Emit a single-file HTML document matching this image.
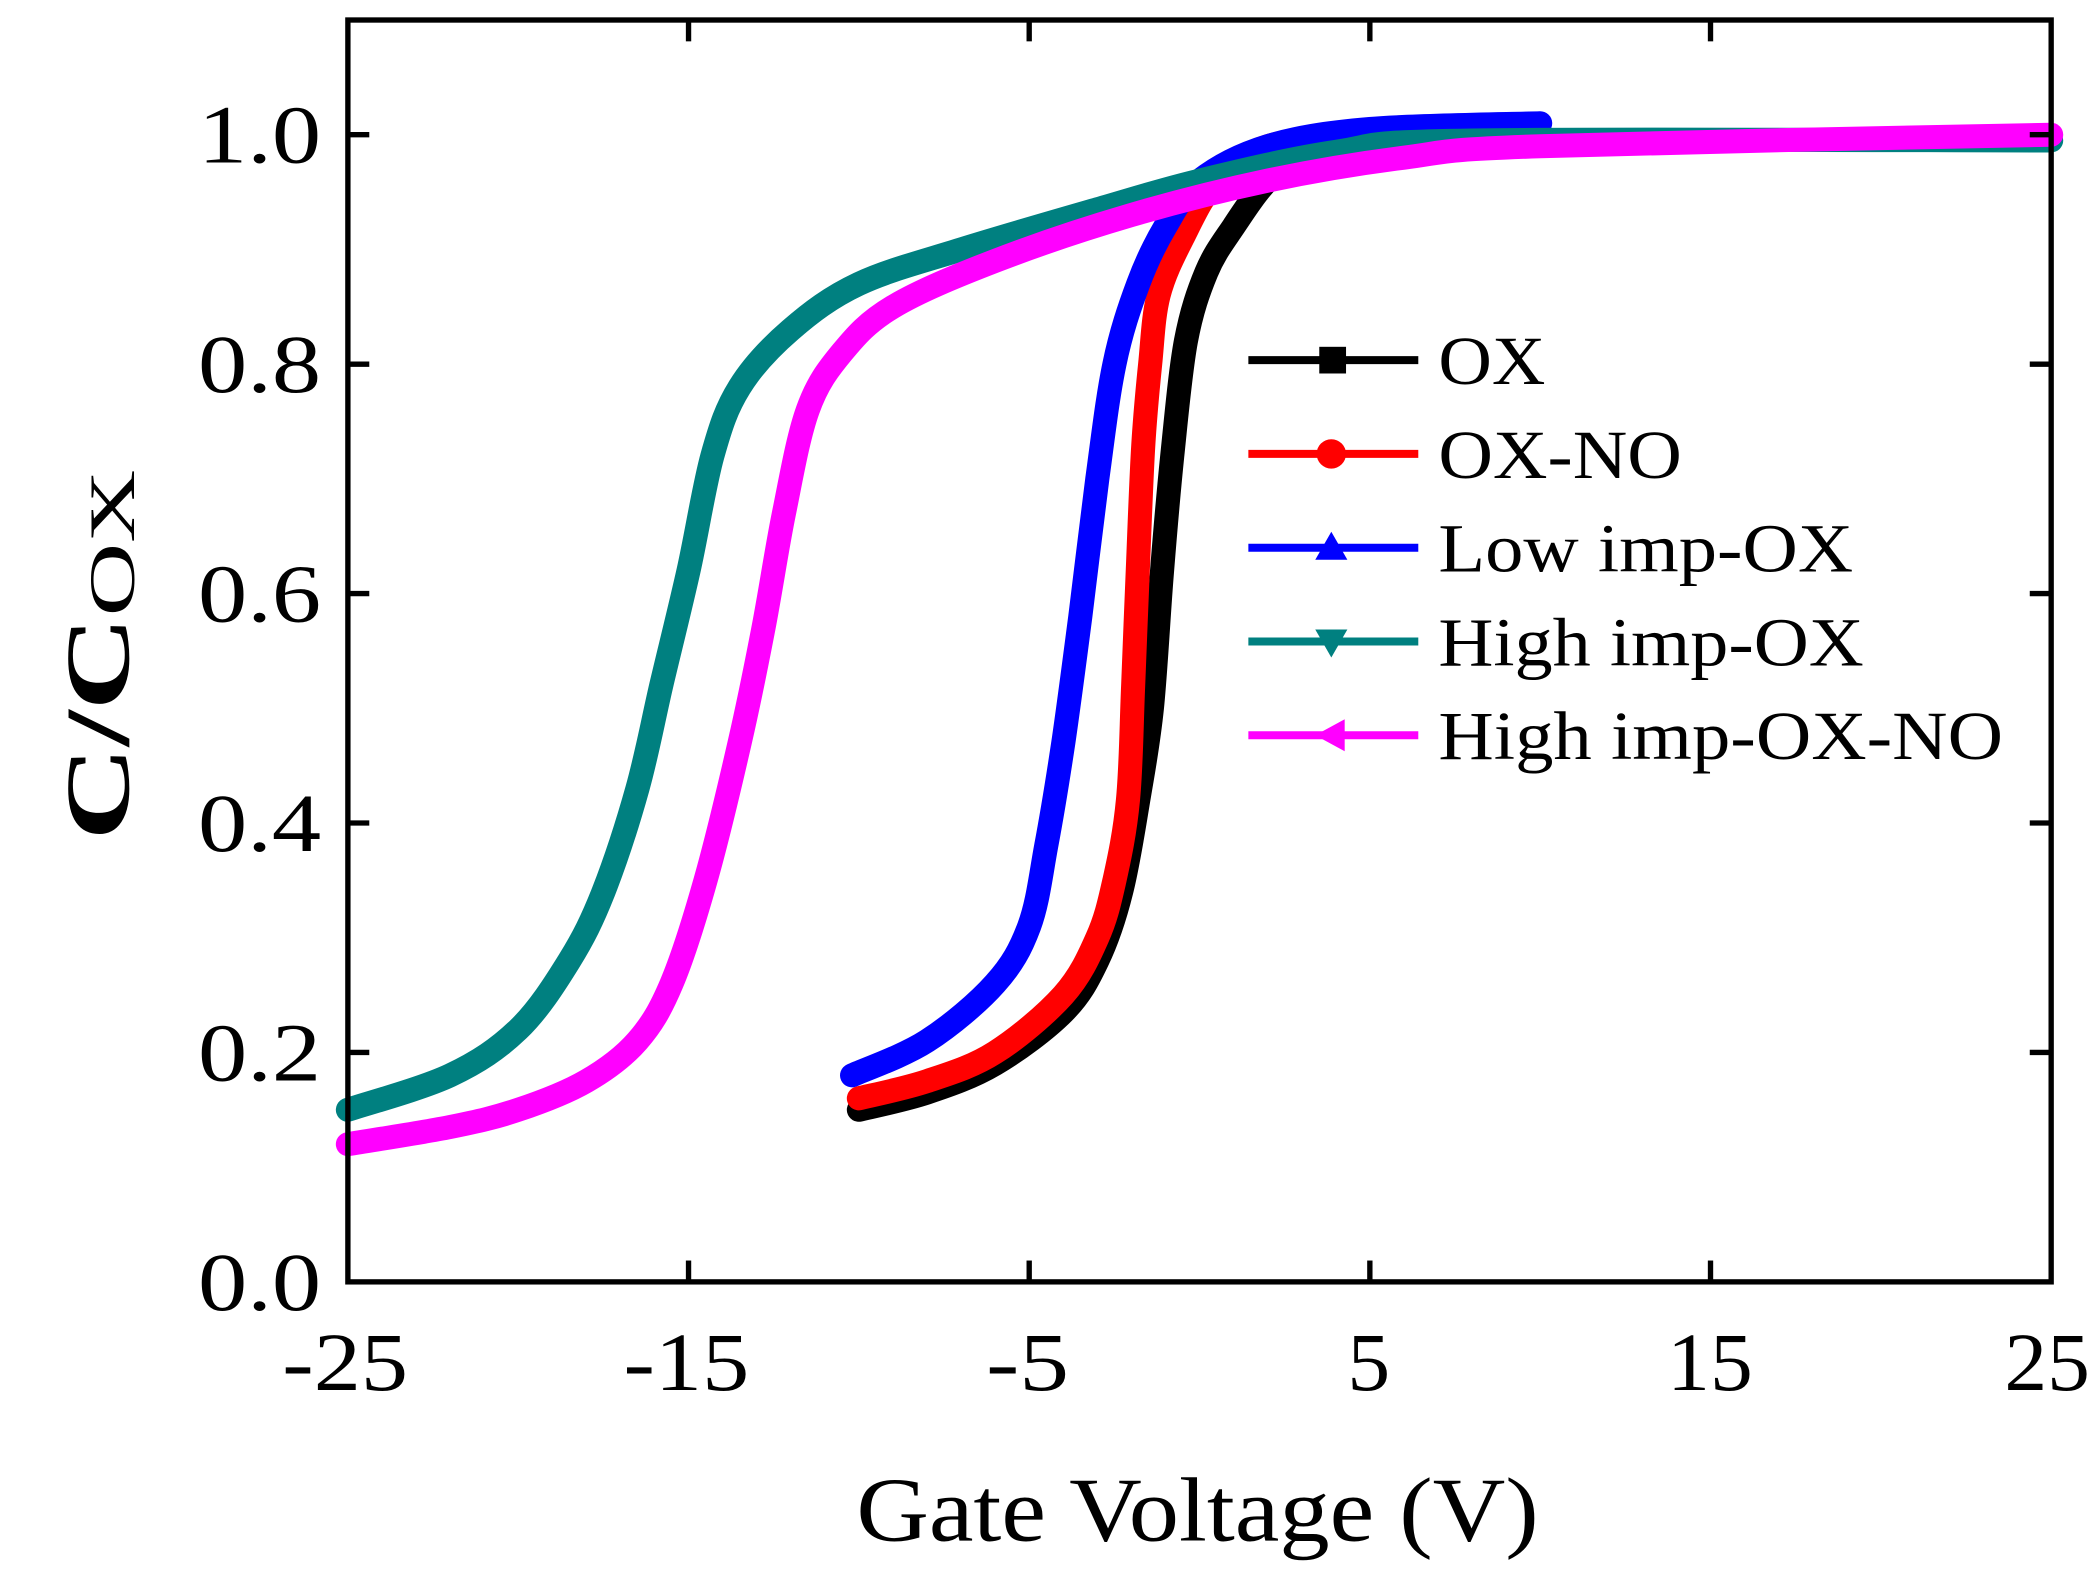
<!DOCTYPE html><html><head><meta charset="utf-8"><style>html,body{margin:0;padding:0;background:#fff}svg{display:block}</style></head><body>
<svg id="s" width="2098" height="1582" viewBox="0 0 1568 1186" preserveAspectRatio="none" xmlns="http://www.w3.org/2000/svg" font-family="Liberation Serif, serif">
<rect width="1568" height="1186" fill="#fff"/>
<g id="curves"></g>
<rect x="260" y="15" width="1273" height="946" fill="none" stroke="#000" stroke-width="4"/>
<g stroke="#000" stroke-width="4" id="ticks"></g>
<g font-size="62" text-anchor="end">
<text x="240" y="982" textLength="92" lengthAdjust="spacingAndGlyphs">0.0</text><text x="240" y="810" textLength="92" lengthAdjust="spacingAndGlyphs">0.2</text><text x="240" y="638" textLength="92" lengthAdjust="spacingAndGlyphs">0.4</text><text x="240" y="466" textLength="92" lengthAdjust="spacingAndGlyphs">0.6</text><text x="240" y="294" textLength="92" lengthAdjust="spacingAndGlyphs">0.8</text><text x="240" y="122" textLength="92" lengthAdjust="spacingAndGlyphs">1.0</text></g>
<g font-size="62" text-anchor="middle">
<text x="258" y="1042" textLength="94" lengthAdjust="spacingAndGlyphs">-25</text><text x="513" y="1042" textLength="94" lengthAdjust="spacingAndGlyphs">-15</text><text x="768" y="1042" textLength="62" lengthAdjust="spacingAndGlyphs">-5</text><text x="1023" y="1042" textLength="32" lengthAdjust="spacingAndGlyphs">5</text><text x="1278" y="1042" textLength="64" lengthAdjust="spacingAndGlyphs">15</text><text x="1530" y="1042" textLength="64" lengthAdjust="spacingAndGlyphs">25</text></g>
<text x="895" y="1155" font-size="68" text-anchor="middle" textLength="510" lengthAdjust="spacingAndGlyphs">Gate Voltage (V)</text>
<text transform="translate(96,630) rotate(-90)" font-size="68" font-weight="bold"><tspan textLength="168" lengthAdjust="spacingAndGlyphs">C/C</tspan><tspan font-size="48" dy="4" font-weight="normal" textLength="110" lengthAdjust="spacingAndGlyphs">OX</tspan></text>
<g id="leg" font-size="52"></g>
</svg>
<script>
const X=v=>260+(v+25)*25.46, Y=c=>961-c*860;
const S=[
["#000",[[-10,.15],[-8,.165],[-6,.19],[-4,.235],[-3,.28],[-2.3,.34],[-1.8,.42],[-1.4,.5],[-1.1,.62],[-0.8,.72],[-0.4,.82],[0.2,.88],[1,.92],[2,.96],[3,.98],[5,.995],[10,1]]],
["#f00",[[-10,.16],[-8,.175],[-6,.2],[-4,.25],[-3,.3],[-2.5,.35],[-2.1,.42],[-1.95,.52],[-1.8,.63],[-1.65,.73],[-1.45,.8],[-1.2,.86],[-.5,.91],[.5,.96],[2,.99],[5,1],[10,1]]],
["#00f",[[-10.2,.18],[-8,.21],[-6,.26],[-5,.31],[-4.5,.38],[-4,.47],[-3.5,.58],[-3,.7],[-2.5,.8],[-1.8,.87],[-1,.92],[0,.96],[2,.99],[5,1.005],[10,1.01]]],
["#008080",[[-25,.15],[-22,.18],[-20,.22],[-18.5,.28],[-17.5,.34],[-16.5,.43],[-15.8,.52],[-15,.62],[-14.3,.72],[-13.5,.78],[-12,.83],[-10,.87],[-7,.9],[-3,.935],[0,.96],[4,.985],[8,.995],[25,.995]]],
["#f0f",[[-25,.12],[-22,.135],[-20,.15],[-18,.175],[-16.5,.21],[-15.5,.26],[-14.5,.35],[-13.5,.47],[-12.8,.57],[-12.2,.67],[-11.5,.76],[-10.5,.81],[-9,.85],[-6,.89],[-2,.93],[2,.96],[6,.98],[10,.99],[25,1]]]];
function path(p){const P=p.map(q=>[X(q[0]),Y(q[1])]);let d=`M${P[0][0]},${P[0][1]}`;
for(let i=0;i<P.length-1;i++){const a=P[Math.max(0,i-1)],b=P[i],c=P[i+1],e=P[Math.min(P.length-1,i+2)];
const c1=[b[0]+(c[0]-a[0])/6,b[1]+(c[1]-a[1])/6],c2=[c[0]-(e[0]-b[0])/6,c[1]-(e[1]-b[1])/6];
d+=` C${c1[0].toFixed(1)},${c1[1].toFixed(1)} ${c2[0].toFixed(1)},${c2[1].toFixed(1)} ${c[0].toFixed(1)},${c[1].toFixed(1)}`;}return d;}
let h='';
for(const[c,p]of S){h+=`<path d="${path(p)}" fill="none" stroke="${c}" stroke-width="18" stroke-linejoin="round" stroke-linecap="round"/>`;}
document.getElementById('curves').innerHTML=h;
let t='';for(const v of[-15,-5,5,15]){t+=`<line x1="${X(v)}" y1="961" x2="${X(v)}" y2="945"/><line x1="${X(v)}" y1="15" x2="${X(v)}" y2="31"/>`;}
for(const c of[.2,.4,.6,.8,1]){t+=`<line x1="260" y1="${Y(c)}" x2="276" y2="${Y(c)}"/><line x1="1533" y1="${Y(c)}" x2="1517" y2="${Y(c)}"/>`;}
document.getElementById('ticks').innerHTML=t;
const L=[["#000","OX",80],["#f00","OX-NO",182],["#00f","Low imp-OX",310],["#008080","High imp-OX",318],["#f0f","High imp-OX-NO",422]];let l='';
L.forEach(([c,n,w],i)=>{let y=270+i*70.3;let m=i==0?`<rect x="986" y="${y-10}" width="20" height="20" fill="${c}"/>`:i==1?`<circle cx="995" cy="${y}" r="11" fill="${c}"/>`:i==2?`<polygon points="995,${y-12} 1007,${y+9} 983,${y+9}" fill="${c}"/>`:i==3?`<polygon points="995,${y+12} 1007,${y-9} 983,${y-9}" fill="${c}"/>`:`<polygon points="983,${y} 1005,${y-12} 1005,${y+12}" fill="${c}"/>`;
l+=`<line x1="933" x2="1060" y1="${y}" y2="${y}" stroke="${c}" stroke-width="6"/>${m}<text x="1075" y="${y+18}" textLength="${w}" lengthAdjust="spacingAndGlyphs">${n}</text>`;});
document.getElementById('leg').innerHTML=l;
</script>
</body></html>
